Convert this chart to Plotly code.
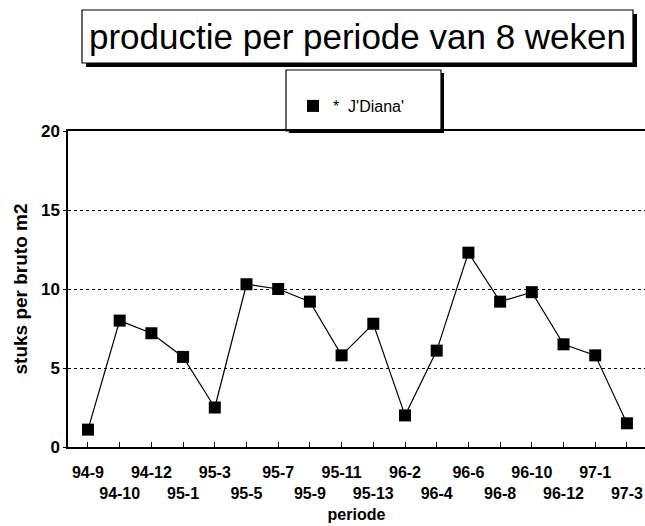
import plotly.graph_objects as go

# ---- data ----
periods = ["94-9", "94-10", "94-12", "95-1", "95-3", "95-5", "95-7", "95-9", "95-11",
           "95-13", "96-2", "96-4", "96-6", "96-8", "96-10", "96-12", "97-1", "97-3"]
production = [1.1, 8.0, 7.2, 5.7, 2.5, 10.3, 10.0, 9.2, 5.8,
              7.8, 2.0, 6.1, 12.3, 9.2, 9.8, 6.5, 5.8, 1.5]
series_name = "*  J'Diana'"
y_ticks = [0, 5, 10, 15, 20]
title_text = "productie per periode van 8 weken"
x_title = "periode"
y_title = "stuks per bruto m2"

W, H = 645, 526
# plot area in page pixels
PL, PR, PT, PB = 68, 645, 131, 447
L, R, T, B = PL, PR, PT, PB
FONT = "Liberation Sans, Arial, sans-serif"


def px(x):
    """page x pixel -> paper coordinate"""
    return (x - PL) / (PR - PL)


def py(y):
    """page y pixel -> paper coordinate"""
    return (PB - y) / (PB - PT)


ticktext = [p if i % 2 == 0 else "<br>" + p for i, p in enumerate(periods)]

fig = go.Figure()
fig.add_trace(go.Scatter(
    x=periods, y=production, mode="lines+markers",
    line=dict(color="black", width=1.2),
    marker=dict(symbol="square", size=12, color="black"),
    showlegend=False, cliponaxis=False,
))
fig.add_trace(go.Scatter(
    x=[None], y=[None], mode="markers", name=series_name,
    marker=dict(symbol="square", size=12, color="black"),
    showlegend=True,
))

shapes = []
# title box with shadow
shapes.append(dict(type="rect", xref="paper", yref="paper",
                   x0=px(86), x1=px(637), y0=py(14), y1=py(67),
                   fillcolor="black", line=dict(width=0), layer="below"))
shapes.append(dict(type="rect", xref="paper", yref="paper",
                   x0=px(82), x1=px(633), y0=py(10), y1=py(63),
                   fillcolor="white", line=dict(color="black", width=1.2), layer="below"))
# legend box with shadow
shapes.append(dict(type="rect", xref="paper", yref="paper",
                   x0=px(289), x1=px(444), y0=py(73), y1=py(133),
                   fillcolor="black", line=dict(width=0), layer="below"))
shapes.append(dict(type="rect", xref="paper", yref="paper",
                   x0=px(286), x1=px(441), y0=py(70), y1=py(131),
                   fillcolor="white", line=dict(color="black", width=1.2), layer="below"))

fig.update_layout(
    width=W, height=H,
    margin=dict(l=L, r=W - R, t=T, b=H - B, autoexpand=False),
    paper_bgcolor="white", plot_bgcolor="rgba(0,0,0,0)",
    font=dict(family=FONT, color="black"),
    shapes=shapes,
    annotations=[dict(text=title_text, xref="paper", yref="paper",
                      x=px(357), y=py(37), xanchor="center", yanchor="middle",
                      showarrow=False, font=dict(size=35, family=FONT, color="black"))],
    legend=dict(x=px(293), y=py(106), xanchor="left", yanchor="middle",
                bgcolor="rgba(0,0,0,0)", borderwidth=0,
                font=dict(size=16, family=FONT, color="black")),
    xaxis=dict(
        type="category", automargin=False,
        range=[-0.63, 17.57], tickmode="array", tickvals=periods, ticktext=ticktext,
        tickangle=0,
        tickfont=dict(size=16, weight="bold"), ticks="inside", ticklen=5, tickcolor="black",
        showline=True, linecolor="black", linewidth=1.5, mirror=True,
        showgrid=False, zeroline=False, ticklabelstandoff=10,
        title=dict(text=x_title, font=dict(size=16, weight="bold"), standoff=8),
    ),
    yaxis=dict(
        automargin=False,
        range=[0, 20], tickvals=y_ticks, tickfont=dict(size=17, weight="bold"),
        ticks="outside", ticklen=3, tickcolor="black",
        showline=True, linecolor="black", linewidth=1.5,
        showgrid=True, gridcolor="black", gridwidth=1, griddash="dot",
        zeroline=False,
        title=dict(text=y_title, font=dict(size=19, weight="bold"), standoff=8),
    ),
)

fig.write_html(
    "out.html",
    config={"displayModeBar": False},
    post_script="document.body.style.margin='0';document.body.style.overflow='hidden';",
)
